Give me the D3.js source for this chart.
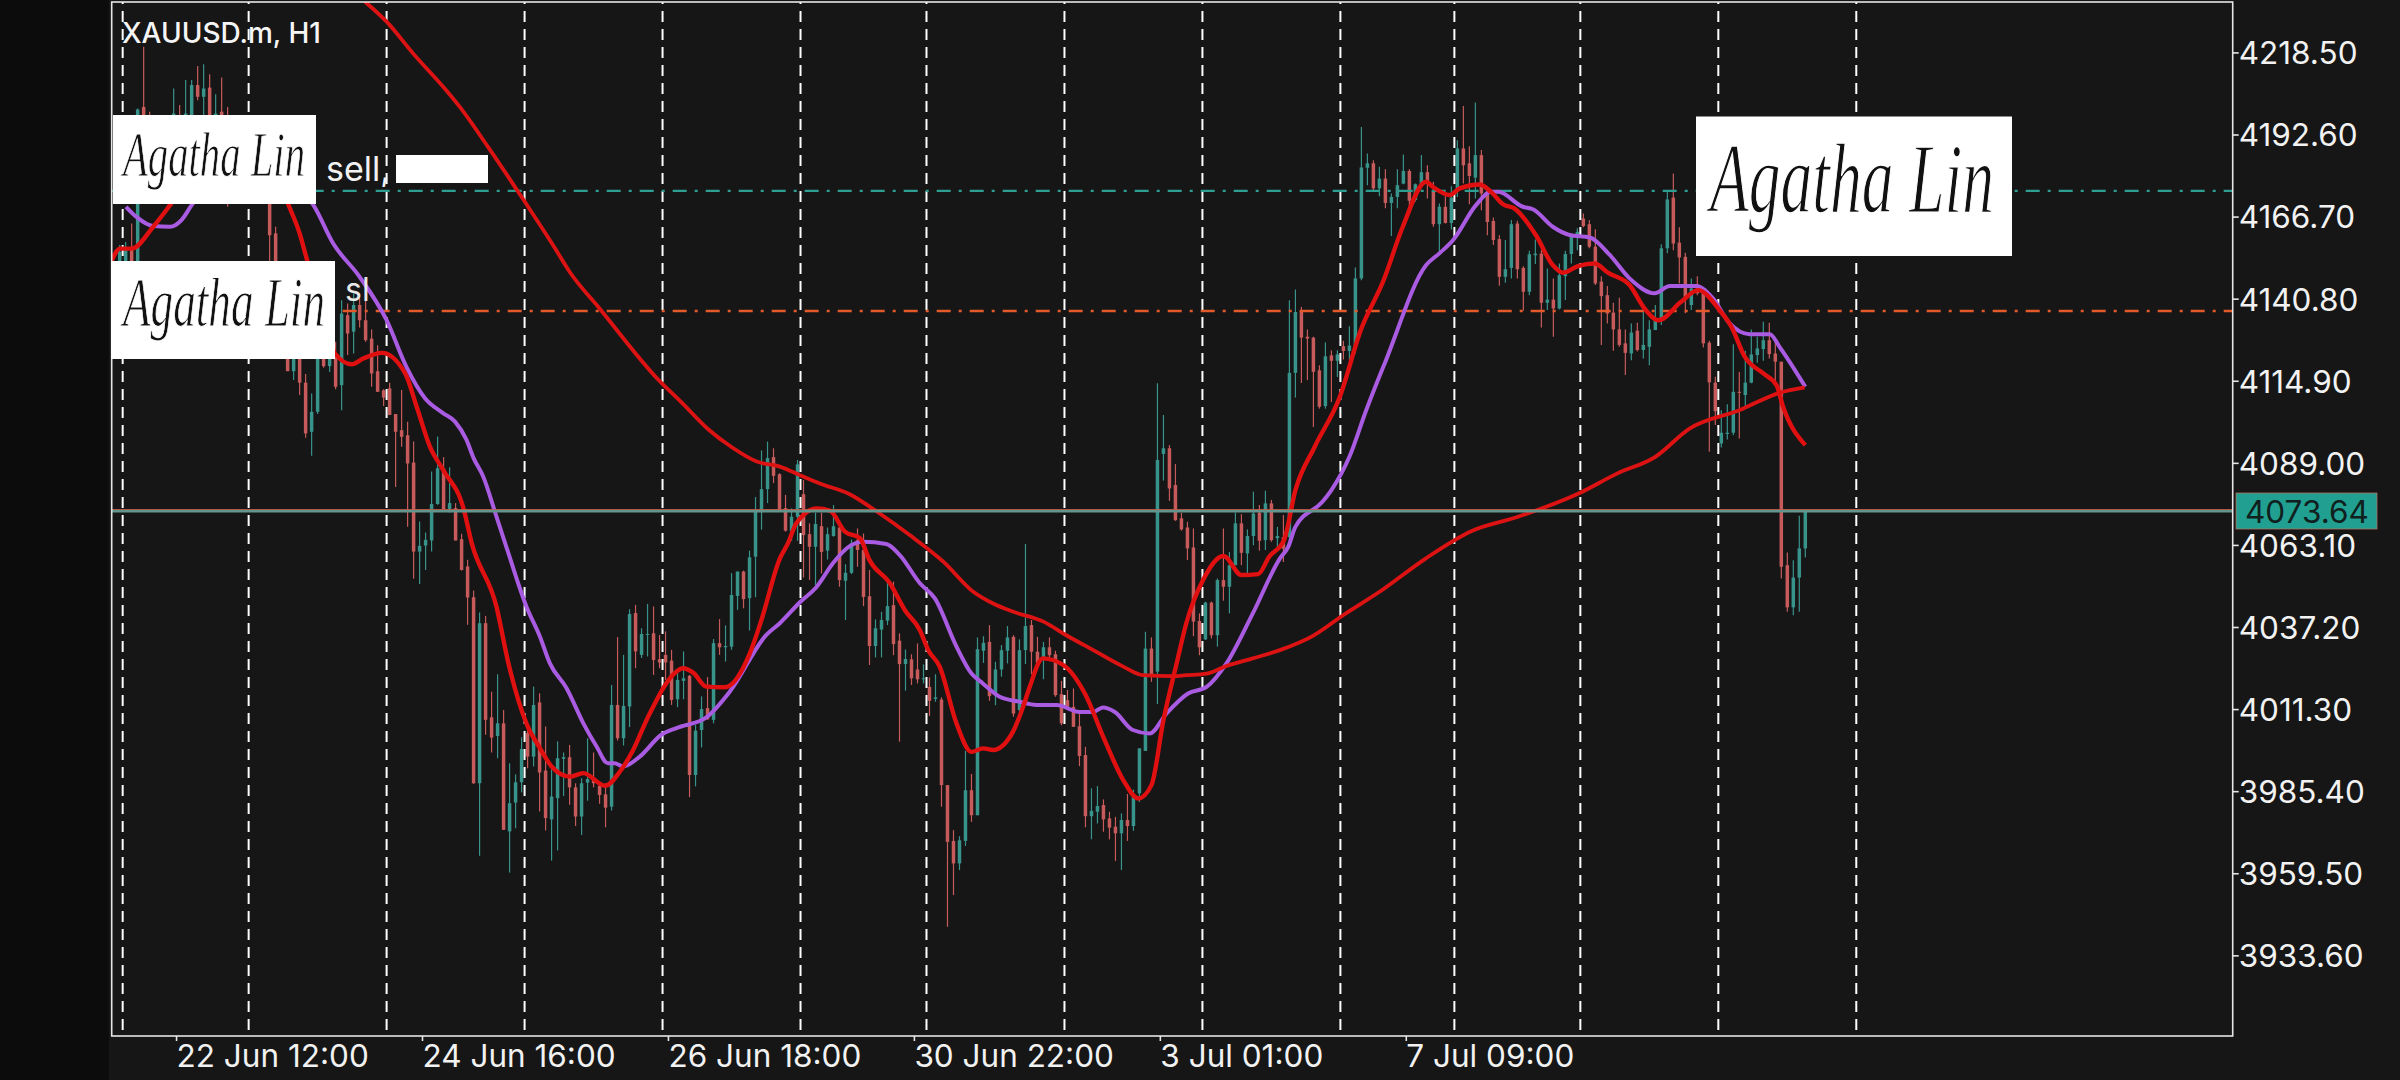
<!DOCTYPE html>
<html><head><meta charset="utf-8">
<script src="https://cdnjs.cloudflare.com/ajax/libs/d3/7.8.5/d3.min.js"></script>
<style>html,body{margin:0;padding:0;background:#161616;overflow:hidden}svg{display:block}text{font-family:Inter,Roboto,sans-serif}</style>
</head><body><svg id="c" width="2400" height="1080"></svg>
<script>
const symbolTitle = "XAUUSD.m, H1";
const priceTicks = [4218.5,4192.6,4166.7,4140.8,4114.9,4089.0,4063.1,4037.2,4011.3,3985.4,3959.5,3933.6];
const dateTickBars = [9.4,50.4,91.4,132.4,173.4,214.4];
const dateTickLabels = ["22 Jun 12:00","24 Jun 16:00","26 Jun 18:00","30 Jun 22:00","3 Jul 01:00","7 Jul 09:00"];
const sessionBars = [0.5,21.5,44.5,67.5,90.5,113.5,134.5,157.5,180.5,203.5,222.5,243.5,266.5,289.5];
const lastPrice = 4073.64, tpLevel = 4174.8, slLevel = 4136.9;

const opens = [4150.8,4150.8,4156.6,4150.8,4201.3,4198.7,4190.8,4184.5,4188.7,4184.5,4198.2,4189.8,4198.7,4208.2,4204.5,4207.4,4192.9,4199.8,4198.2,4192.9,
4182.4,4192.9,4182.4,4190.8,4189.8,4182.4,4161.4,4148.7,4127,4117.9,4124,4114.3,4098.8,4105.1,4123.5,4119.5,4123.5,4113.5,4135.6,4130.4,
4138.8,4134,4128.2,4117.9,4111.9,4112.5,4104.4,4099.3,4097.7,4089.1,4061,4062.9,4064.5,4076,4087.3,4074.4,4074.7,4064.9,4056.3,4046.6,
3987.9,4038.4,4008.7,4002.8,4006.8,3972.7,3981.8,3988.2,4003.7,3996.3,4013.4,3991.9,3976.5,3983.2,3995.6,3996.1,3986.6,3977.4,3988.1,3989.2,
3987.1,3984.4,3980.5,4012.6,4002.1,4012.1,4041.6,4028.4,4034.7,4035.2,4027,4028.4,4026.6,4014.4,4020.2,4021.8,3990.5,4004.7,4011.6,4007.9,
4032.1,4030.8,4031,4047,4054.7,4046.3,4059.4,4073.6,4080.7,4090.8,4085.4,4074.7,4067.3,4072,4079.1,4066.5,4062.5,4069,4061.3,4065.9,
4068.6,4051.8,4054.3,4064.6,4061.5,4046.9,4031.2,4036.4,4039.2,4044.1,4032.9,4025.5,4027,4023.8,4020.7,4018.3,4014.5,4014.3,3987.3,3969.7,
3962.6,3969.7,3985.7,3977.8,4029.7,4032.5,4016,4023.8,4029.7,4034.1,4011,4029.9,4037.8,4029.4,4027.6,4030.8,4028.6,4016,4014.1,4012,
4005.9,3996.8,3977.5,3978.9,3981,3976.8,3974.2,3972.1,3976.3,3974.4,3984.7,3998.1,4030.4,4023.1,4091.8,4093.6,4082,4071.5,4068.6,4062.3,
4039.1,4033.3,4044.9,4034.6,4052,4049.9,4056.7,4069.9,4060.4,4065.9,4073.3,4064.6,4076.2,4065.2,4065.6,4065.6,4117.4,4137,4128.8,4128.5,
4118.2,4106.9,4122.9,4121.2,4125.8,4124.3,4125.6,4147.2,4182.1,4183.5,4175.6,4178.7,4171,4172.9,4177.1,4181.1,4171.9,4176.9,4180.7,4174.8,
4164.3,4169.8,4164.7,4175.6,4188.2,4183.5,4179,4186.1,4174,4165.3,4159.6,4147.7,4150.5,4164.5,4150.5,4143,4154.5,4155,4139.5,4140.5,
4137.7,4147.9,4154.9,4160.6,4166.1,4164.3,4157.2,4146.2,4141.9,4136.4,4131.1,4126.7,4123.5,4130.7,4124.6,4125.6,4130.9,4134,4156.7,4172.7,
4158.5,4154,4138.8,4144,4142.5,4126.9,4114.3,4095.1,4098.1,4098.5,4111.4,4110.4,4114.3,4123,4124.9,4127.7,4123.5,4120.9,4056.7,4043.4,4052.8,4062];
const highs = [4157.7,4158.7,4164.5,4200.8,4220.3,4199.8,4192.9,4192.9,4195,4207.1,4201.9,4209.8,4209.8,4214.2,4214.8,4211.6,4205.3,4210.6,4201.3,4195,
4194,4195,4192.9,4196.1,4191.9,4190.8,4163.5,4150.8,4131,4128,4127,4117,4110.9,4129.8,4126,4126,4127.2,4140.3,4139.3,4142.4,
4140.9,4141.9,4131.1,4126.1,4112.2,4114.3,4104.4,4112,4102,4095.7,4070.5,4067,4086.3,4097.3,4090.8,4087.6,4076.3,4066.6,4058.4,4048.7,
4041.8,4040.7,4016.8,4022.3,4011,3994.2,3990.7,4002.4,4006.3,4018.4,4016.3,4005.8,3992.3,4001.1,3997.6,4000,3987.9,3989.5,4002.1,3997.6,
3987.9,3987.9,4018.9,4034,4028.4,4042.8,4044.2,4036.8,4044.5,4043.7,4034.7,4035.8,4030,4022.6,4029.5,4022.1,4006.3,4015.3,4021.4,4033.4,
4039.7,4037.7,4054.2,4054.7,4055,4061.3,4078.2,4092.9,4095.7,4093.6,4085.7,4078.9,4074.6,4089.9,4083.6,4069.9,4073.3,4073.3,4068.6,4075.7,
4070.9,4057,4064.8,4068.3,4066.7,4055.2,4039.6,4042,4051.5,4051.5,4035.2,4030.1,4028.6,4032,4025.4,4021.3,4022.3,4015,3987.3,3973.1,
3971.2,3998.1,3990.8,4033.9,4034.3,4037.8,4026.2,4031.5,4037.5,4034.6,4033.3,4063.4,4039.4,4034.1,4032.5,4033.9,4029.7,4020.2,4017.3,4017.8,
4009.7,3999.4,3986.3,3987,3982.8,3978.9,3977.3,3978.4,3984.5,3985.9,3998.9,4035.7,4033.9,4114.1,4104.1,4094.6,4088.6,4073.3,4070.4,4068.3,
4041.5,4045.2,4045.2,4052.5,4068.3,4060.9,4073.3,4072.8,4068,4079.9,4075.7,4080.2,4077.3,4068.8,4072.5,4140.3,4143.7,4138.2,4131.1,4128.8,
4119.8,4127,4124.5,4124.5,4127.5,4132.1,4150.6,4195,4186.6,4184.5,4182.4,4181.6,4174,4181.6,4186.3,4181.6,4177.1,4186.1,4182.9,4177.7,
4170.8,4173.1,4176.3,4190.8,4201.6,4188.9,4202.7,4187.7,4175.6,4166.4,4160.8,4159.3,4165.6,4165.4,4151,4155.9,4159.5,4156.1,4150.3,4147.2,
4151.9,4155.9,4161.4,4163,4167.7,4165.6,4162.7,4147.9,4144.8,4139.5,4141.1,4131.1,4133,4133.2,4138.3,4134,4138.8,4158,4174.9,4180.3,
4163.3,4155.3,4147.2,4147.9,4143.5,4127.5,4116.2,4105.6,4107.5,4126.4,4117.7,4124.4,4131.1,4128.8,4133.5,4133.2,4128.3,4120.9,4060.7,4058.3,4072.3,4073.9];
const lows = [4148.7,4148.7,4147.7,4148.7,4176.1,4176.1,4177.1,4180.3,4179.2,4176.1,4180.3,4182.4,4190.8,4203.4,4198.2,4189.8,4184.5,4182.4,4169.8,4182.4,
4180.3,4178.2,4176.1,4172.9,4171.9,4151.9,4140.3,4129.8,4123,4115.1,4110.4,4096.9,4091.2,4104.4,4119,4117.7,4112.2,4105.6,4123,4123.5,
4131.7,4127.2,4113,4111.4,4106.9,4104.1,4081.4,4094.1,4068.8,4052.4,4050.8,4055.2,4061,4075.8,4074.4,4073.3,4064.5,4055,4037.9,3987.7,
3965,4003.2,3997.6,3995.8,3973.2,3959.7,3973.7,3985,3992.6,3993.2,3979,3973,3963.5,3966.7,3983.9,3981.1,3974.4,3971.6,3982.4,3986.6,
3981.4,3974,3979.3,4001.4,3999.8,4005.6,4024.2,4027.4,4027.9,4022.1,4024.2,4020.5,4012.6,4011.9,4014.4,3983.5,3986.9,3999.2,4007.9,4006.8,
4028.4,4026.3,4030,4042.6,4043.1,4036.1,4046.6,4067.9,4076.3,4082.6,4073.6,4067.3,4064.4,4064.4,4052.8,4052,4050.4,4054.1,4058.5,4065.7,
4049.9,4039.4,4053.9,4056.2,4043.8,4025.2,4027.6,4027.6,4037.8,4028.3,4001,4017.1,4018.9,4019.4,4019.4,4009.1,4013.6,3980.5,3942.6,3952.6,
3960.5,3968.1,3975.7,3977.8,4025.9,4013.9,4012.5,4021.5,4025.7,4008.9,4008.3,4025.5,4022.3,4024.1,4020.7,4026.8,4015.2,4006.2,4012,4005.7,
3993.3,3974,3970.2,3975.2,3972.6,3970.2,3963.4,3960.5,3969.7,3972.9,3982,3998.1,4019.9,4012.9,4083.4,4077,4070.7,4067.6,4058.3,4034.3,
4028.3,4033.1,4033.6,4031,4045.5,4041.5,4056.7,4056.7,4053.9,4063,4061.3,4061.5,4064.1,4061.5,4057.7,4064.6,4109.6,4114.2,4115.1,4100.3,
4106.1,4106.1,4108.2,4116.1,4121.6,4121.4,4123.5,4146.6,4176.6,4175,4173.1,4169.3,4160.6,4169.3,4176.9,4168.5,4171.4,4176.1,4172.4,4163.5,
4155.6,4164.5,4162.6,4172.9,4177.1,4170.6,4172.4,4168.7,4160.8,4157.7,4144.9,4145.8,4147.2,4147.2,4137,4141.9,4151.7,4131.7,4137.2,4128.8,
4137.4,4140.4,4151.9,4156.1,4163.3,4156.7,4145.1,4126.2,4133,4124.4,4125.6,4116.7,4121.4,4124.1,4121.9,4119.8,4130.9,4132.5,4155.1,4156.1,
4145.6,4136.2,4137.2,4141.9,4125.4,4092.5,4100.9,4093.8,4096.4,4097.7,4096.7,4106.7,4114.1,4120.6,4121.2,4121.9,4114.1,4052.5,4042,4040.9,4042,4059.1];
const closes = [4155.6,4156.1,4150.8,4200.5,4182.4,4187.7,4184.5,4188.7,4182.4,4199.2,4185.6,4199.2,4208.2,4204.5,4207.1,4198.7,4199.2,4190.8,4179.2,4185.6,
4190.8,4184.5,4189.8,4180.3,4176.1,4160.8,4147.7,4135.1,4117.9,4124,4114.3,4098.3,4105.1,4127.7,4119.5,4123.5,4113,4136.1,4129.8,4138.8,
4134,4127.7,4117.2,4111.4,4109.6,4104.1,4098.8,4097.2,4088.8,4061,4062.8,4064.7,4076,4087.3,4074.4,4076.3,4064.5,4055.2,4046.5,3987.9,
4038.4,4007.9,4002.3,4006.8,3973.2,3981.6,3988.2,3998.7,3996.3,4012.6,3991.3,3976.9,3983.7,3995.8,3996.1,3986.6,3977.4,3987.9,3989.2,3987.9,
3984.2,3980.2,4012.6,4002.1,4012.3,4041.3,4029.5,4035,4035,4026.8,4026,4026,4014.2,4020.5,4021,3990.5,4004.5,4011.3,4008.1,4032.1,
4030.8,4031.2,4047.3,4054.7,4046,4059.2,4073.6,4080.7,4090.5,4084.9,4074.2,4067.6,4072,4088.5,4066.2,4062.5,4069.7,4060.9,4066.5,4069,
4052,4054.3,4063.6,4061.5,4046.7,4031.2,4036.8,4039.4,4043.8,4031.8,4025.5,4027.1,4021,4020.7,4021,4013.9,4015,3987.3,3969.4,3962.6,
3969.9,3985.7,3977.8,4030.2,4032.2,4015.4,4023.8,4029.9,4033.9,4009.9,4029.9,4037.5,4029.4,4025.9,4030.8,4028.3,4015.7,4006.8,4012,4005.7,
3996.5,3977.5,3979.2,3980.7,3976.5,3973.9,3972.1,3976.3,3974.4,3983.6,3998.9,4030.4,4021.5,4089.9,4093.6,4080.9,4070.9,4068,4062,4038.9,
4030.8,4044.9,4034.6,4052,4049.9,4056.7,4069.9,4060.6,4065.9,4073,4064.4,4076.2,4064.6,4065.9,4061.9,4117.4,4136.6,4128.5,4128.2,4117.7,
4106.7,4122.6,4121.2,4123.2,4124.3,4126,4147.2,4182.2,4183.5,4175.6,4178.7,4171,4172.9,4176.6,4181.1,4171.7,4176.9,4180.7,4177.7,4164.3,
4169.8,4164.7,4172.7,4188.2,4182.9,4179.5,4186.1,4174,4165,4159.3,4147.7,4150.1,4164.3,4150.1,4143,4154.8,4155,4139.5,4140.5,4137.7,
4148.2,4154.9,4160.6,4161.9,4163.7,4157.2,4145.6,4141.6,4136.1,4131.1,4126.2,4123.7,4130.1,4124.6,4126.2,4131.1,4134.6,4156.7,4172.1,4158.2,
4153.8,4140.4,4144,4142.5,4126.7,4114.4,4105.3,4098.5,4098.5,4111.4,4111.1,4114.3,4123.2,4125.1,4127.7,4123.3,4120.9,4056.2,4043.4,4052.8,4062,4073.64];

const slowBars = [40.9,44.5,48.9,54.5,56.7,61.4,67,72.6,75,80,89.8,93.7,98.1,102.3,106.2,110.05,113.4,116.7,121.7,126.7,131.7,137.3,142.3,145.6,149,154,157.8,162.3,167.3,170.6,175.6,177.8,181.2,184.5,188.9,193.4,199,204,210.4,217.7,225.4,233,243.2,249.6,256,261.7,270,276.7,280.9];
const slowVals = [4234.5,4228.2,4218.2,4206.4,4201.3,4188.7,4172.9,4156.6,4149.3,4137.7,4115.2,4108,4099.6,4093.6,4089.4,4087.8,4085.1,4082.5,4079.1,4073,4066.2,4057.8,4048.3,4044.6,4042,4038.9,4034.6,4029.9,4024.7,4022,4021.7,4022,4022.5,4024.9,4027.3,4029.9,4034.5,4041,4048.8,4058.8,4067.5,4071.9,4079.3,4085.6,4090.9,4099.8,4105.6,4111.1,4112.8];
const purpleBars = [1.05,2.8,5.6,8.4,10.3,12,22,32.3,35.6,40,44.5,47.8,50.9,53.9,55.9,57.8,59,60.6,62.8,64.8,67.8,70.05,71.7,74.5,77.3,79.5,81.4,82.5,83.9,86.7,90.3,92.8,97.8,101.7,107.8,110.05,113.4,116.2,118.9,121.7,123.9,127.8,130.05,133.4,135.9,139.5,142,143.9,146.7,150.05,152.8,156.2,160,162.3,163.9,165.9,168.9,171.7,174.5,178.1,181.2,184.5,188.9,193.4,194.8,196,200.5,202,205,207.8,211.1,217.8,220,222.3,226.1,228.6,229.8,233.9,235.6,238.9,241.7,245.1,248.4,251.7,255.9,258.4,262.8,265.6,268.4,271.7,275.1,276.7,281];
const purpleVals = [4169.8,4166.6,4163.7,4163.5,4165.6,4170.3,4185,4170.3,4158.2,4147.7,4134,4119.3,4109.4,4104.7,4102,4096.3,4090.5,4084.7,4072.1,4060.5,4043.7,4034.2,4025.8,4017.9,4006.8,3999.5,3994.2,3994.2,3993.2,3996.3,4003.2,4005.3,4008.7,4016.8,4034.7,4038.4,4045,4049.9,4057.3,4062.7,4064.1,4063.4,4059.9,4051,4046.2,4031,4022.5,4019.4,4015.2,4013.6,4012.6,4012.6,4010.4,4010.4,4011.8,4010.4,4004.7,4003.6,4009.9,4016.2,4018.3,4025.7,4041.5,4058.8,4062.5,4068.8,4076.7,4080.4,4090.9,4105.6,4121.4,4151.4,4155.1,4159.3,4170.3,4174.5,4174.5,4169.8,4169,4163.5,4160.9,4160.1,4154.6,4147.2,4142.5,4144.8,4144.8,4140.9,4133,4129.6,4129.6,4125.6,4113];
const fastBars = [-1.3,0.05,2,5.6,8.4,14,20,25,28.1,30,31.3,33.4,35.9,38.7,40.6,43.7,47.6,49.5,51.7,53.9,57.3,58.7,62.8,64.8,67.8,70.05,72,75.05,77.3,80.9,83.4,85.6,88.1,92.8,93.9,95.6,97.8,100.9,105.05,107,110.05,111.4,112.8,116.2,118.4,120.9,123.4,125,128.4,130.9,133.4,134.8,136.7,139.5,142,143.9,145.6,148.9,150.6,151.7,153.9,157.3,160.9,164.2,167.3,169.8,172,174,176.2,177.8,180.6,184,187,189.8,191.6,194.1,196,199.2,203.4,206.9,210.7,213.9,217.8,218.9,221.7,223.4,226.7,228.6,230.6,232.5,236.1,238.9,240.6,243.1,245.9,248.1,251.7,254.2,256.5,260.3,263.1,266.7,268.7,270.9,274,276.2,277.3,281];
const fastVals = [4152.9,4156.6,4156.6,4163.5,4170.3,4185,4192,4185,4170.6,4161.4,4152.6,4140.3,4123.5,4120.1,4121.9,4123.7,4117.2,4106.8,4094.2,4086.8,4074.7,4063.6,4043.7,4025.8,4006.8,3999,3993.2,3990,3991.1,3987.1,3991.6,3998.4,4008.9,4023.1,4024.2,4022.8,4018.4,4018.2,4028.9,4039.5,4058.8,4063.6,4069.9,4074.6,4073.9,4067.3,4065.2,4058.3,4051,4042.5,4036.2,4029.9,4024.7,4006.8,3997.8,3998.9,3998.4,4004.1,4012,4018.3,4027.3,4025.2,4016.2,4001.5,3988.9,3983.1,3987.3,4007.8,4025.7,4038.3,4052,4059.6,4053.6,4053.9,4059.3,4064.6,4080.4,4094,4109.8,4130.9,4146.6,4163.5,4177.7,4176.1,4173.5,4175.6,4176.8,4174.5,4170.6,4169.3,4160.8,4151.4,4149,4151.1,4151.9,4149,4145.1,4137.7,4134,4139.8,4143.5,4137.2,4131.9,4122.5,4117.2,4113.5,4106.7,4094.6];

const UP="#38938b", DOWN="#c75b5b";
const W=2400,H=1080,L=111.7,R=2232.7,T=2,B=1036;
const x=d3.scaleLinear().domain([0,281]).range([119.67,1805.3]);
const y=d3.scaleLinear().domain([4192.6,4037.2]).range([134.5,627]);
const svg=d3.select("#c");
svg.append("rect").attr("width",W).attr("height",H).attr("fill","#161616");
svg.append("rect").attr("width",L-3).attr("height",H).attr("fill","#0c0c0c");
svg.append("defs").append("clipPath").attr("id","plot").append("rect").attr("x",L).attr("y",T).attr("width",R-L).attr("height",B-T);
const plot=svg.append("g").attr("clip-path","url(#plot)");

// candles
const bars=d3.range(opens.length);
plot.append("g").selectAll("line").data(bars).join("line")
 .attr("x1",i=>x(i)).attr("x2",i=>x(i)).attr("y1",i=>y(highs[i])).attr("y2",i=>y(lows[i]))
 .attr("stroke",i=>closes[i]>=opens[i]?UP:DOWN).attr("stroke-width",1.2);
plot.append("g").selectAll("rect").data(bars).join("rect")
 .attr("x",i=>x(i)-1.75).attr("width",3.5)
 .attr("y",i=>y(Math.max(opens[i],closes[i])))
 .attr("height",i=>Math.max(1,Math.abs(y(opens[i])-y(closes[i]))))
 .attr("fill",i=>closes[i]>=opens[i]?UP:DOWN);

// session separators
plot.append("g").selectAll("line").data(sessionBars).join("line")
 .attr("x1",d=>x(d)).attr("x2",d=>x(d)).attr("y1",-7).attr("y2",B)
 .attr("stroke","#fff").attr("stroke-width",2).attr("stroke-dasharray","11 7");

// levels
[[tpLevel,"#2f9e92"],[slLevel,"#e4592a"]].forEach(([v,c])=>{
 plot.append("line").attr("x1",L).attr("x2",R).attr("y1",y(v)).attr("y2",y(v))
  .attr("stroke",c).attr("stroke-width",2.4).attr("stroke-dasharray","14 8 3 8");
});

// moving averages
const lineGen=d3.line().x(d=>x(d[0])).y(d=>y(d[1])).curve(d3.curveMonotoneX);
const drawMA=(bs,vs,c,w)=>plot.append("path").attr("d",lineGen(bs.map((b,k)=>[b,vs[k]]))).attr("fill","none").attr("stroke",c).attr("stroke-width",w).attr("stroke-linejoin","round");
drawMA(purpleBars,purpleVals,"#a95be2",4);
drawMA(slowBars,slowVals,"#dd1212",3.8);
drawMA(fastBars,fastVals,"#e01010",4.4);

// current price
plot.append("line").attr("x1",L).attr("x2",R).attr("y1",y(lastPrice)-0.3).attr("y2",y(lastPrice)-0.3).attr("stroke","#62958e").attr("stroke-width",2.6);
plot.append("line").attr("x1",L).attr("x2",R).attr("y1",y(lastPrice)-2).attr("y2",y(lastPrice)-2).attr("stroke","#c0604f").attr("stroke-width",0.9);

// frame
svg.append("rect").attr("x",L).attr("y",T).attr("width",R-L).attr("height",B-T).attr("fill","none").attr("stroke","#e6e6e6").attr("stroke-width",1.6);

// axes
const yAxis=d3.axisRight(y).tickValues(priceTicks).tickFormat(d3.format(".2f")).tickSize(6).tickPadding(0);
const gy=svg.append("g").attr("transform",`translate(${R},0)`).call(yAxis);
gy.select(".domain").remove();
gy.selectAll("line").attr("stroke","#e6e6e6").attr("stroke-width",1.6);
gy.selectAll("text").attr("fill","#f2f2f2").attr("font-size",31.5).attr("dy","0.36em").attr("font-family","Inter");
const xAxis=d3.axisBottom(x).tickValues(dateTickBars).tickFormat((d,i)=>dateTickLabels[i]).tickSize(5).tickPadding(3.6);
const gx=svg.append("g").attr("transform",`translate(0,${B})`).call(xAxis);
gx.select(".domain").remove();
gx.selectAll("line").attr("stroke","#e6e6e6").attr("stroke-width",1.6);
gx.selectAll("text").attr("fill","#f2f2f2").attr("font-size",31.5).attr("text-anchor","start").attr("font-family","Inter");

// last price tag
svg.append("rect").attr("x",2236).attr("y",493).attr("width",141).attr("height",36).attr("fill","#21a091").attr("stroke","#b0705e").attr("stroke-width",0.8);
svg.append("text").attr("x",2245).attr("y",522.5).attr("fill","#10201e").attr("font-size",31.5).text(d3.format(".2f")(lastPrice));

// title and notes
svg.append("text").attr("x",122).attr("y",43).attr("fill","#f5f5f5").attr("font-size",28).attr("font-weight",500).text(symbolTitle);
const boxes=[[113,115,203,89,123,176,182,64],[111,261,224,98,123,326,202,70],[1696,116.5,316,139.5,1710,212,284,100]];
boxes.forEach(([bx,by,bw,bh,tx,ty,tw,fs])=>{
 svg.append("rect").attr("x",bx).attr("y",by).attr("width",bw).attr("height",bh).attr("fill","#fff");
 svg.append("text").attr("x",tx).attr("y",ty).attr("fill","#111").attr("font-size",fs).attr("font-style","italic")
  .attr("textLength",tw).attr("lengthAdjust","spacingAndGlyphs")
  .attr("stroke","#fff").attr("stroke-width",fs/70).style("font-family","'Liberation Serif',serif").text("Agatha Lin");
});
svg.append("text").attr("x",326).attr("y",181).attr("fill","#f2f2f2").attr("font-size",34).text("sell,");
svg.append("rect").attr("x",396).attr("y",155).attr("width",92).attr("height",28).attr("fill","#fff");
svg.append("text").attr("x",345).attr("y",301).attr("fill","#e8e8e8").attr("font-size",32).text("sl");
</script></body></html>
